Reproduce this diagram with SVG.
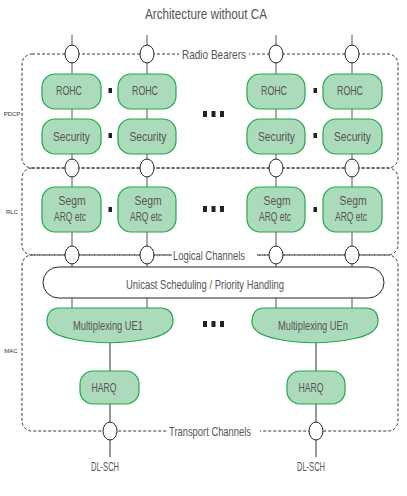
<svg xmlns="http://www.w3.org/2000/svg" width="407" height="496" viewBox="0 0 407 496">
<style>
text{font-family:"Liberation Sans",Arial,sans-serif;fill:#555;text-anchor:middle;dominant-baseline:central}
.g{fill:#acdbbb;stroke:#1fa84a;stroke-width:1.2}
.bnd{fill:none;stroke:#222;stroke-width:0.9;stroke-dasharray:3,2}
.v{stroke:#555;stroke-width:1}
.v2{stroke:#999;stroke-width:2}
.port{fill:#fff;stroke:#222;stroke-width:1}
.lbl{font-size:6px;fill:#333}
.t{font-size:13.5px}
.dot{fill:#222}
</style>
<rect width="407" height="496" fill="#fff"/>
<text x="206" y="14" style="font-size:14px" textLength="122" lengthAdjust="spacingAndGlyphs">Architecture without CA</text>

<g id="layers">
<rect class="bnd" x="22" y="54" width="376" height="114" rx="10"/>
<rect class="bnd" x="22" y="168" width="376" height="87" rx="10"/>
<rect class="bnd" x="22" y="255" width="376" height="176" rx="10"/>
<rect x="179" y="47" width="70" height="14" fill="#fff"/>
<rect x="172" y="248" width="85" height="14" fill="#fff"/>
<rect x="167" y="424" width="93" height="14" fill="#fff"/>
<text x="214" y="54" style="font-size:13px" textLength="64" lengthAdjust="spacingAndGlyphs">Radio Bearers</text>
<text x="209" y="255" style="font-size:13px" textLength="72" lengthAdjust="spacingAndGlyphs">Logical Channels</text>
<text x="210" y="431" style="font-size:13px" textLength="82" lengthAdjust="spacingAndGlyphs">Transport Channels</text>
<text class="lbl" x="12" y="114">PDCP</text>
<text class="lbl" x="12" y="212">RLC</text>
<text class="lbl" x="11" y="351">MAC</text>
</g>

<g id="connectors">
<line class="v" x1="72" y1="35" x2="72" y2="308"/>
<line class="v" x1="147" y1="35" x2="147" y2="308"/>
<line class="v" x1="276" y1="35" x2="276" y2="308"/>
<line class="v" x1="352" y1="35" x2="352" y2="308"/>
<line class="v2" x1="110" y1="340" x2="110" y2="457"/>
<line class="v2" x1="316" y1="340" x2="316" y2="457"/>
</g>

<g id="ports">
<ellipse class="port" cx="72" cy="54" rx="7" ry="9"/>
<ellipse class="port" cx="147" cy="54" rx="7" ry="9"/>
<ellipse class="port" cx="276" cy="54" rx="7" ry="9"/>
<ellipse class="port" cx="352" cy="54" rx="7" ry="9"/>
<ellipse class="port" cx="72" cy="168" rx="7" ry="9"/>
<ellipse class="port" cx="147" cy="168" rx="7" ry="9"/>
<ellipse class="port" cx="276" cy="168" rx="7" ry="9"/>
<ellipse class="port" cx="352" cy="168" rx="7" ry="9"/>
<ellipse class="port" cx="72" cy="255" rx="7" ry="9"/>
<ellipse class="port" cx="147" cy="255" rx="7" ry="9"/>
<ellipse class="port" cx="276" cy="255" rx="7" ry="9"/>
<ellipse class="port" cx="352" cy="255" rx="7" ry="9"/>
<ellipse class="port" cx="110" cy="431" rx="7" ry="9"/>
<ellipse class="port" cx="316" cy="431" rx="7" ry="9"/>
</g>

<g id="rohc1"><rect class="g" x="42" y="74" width="59" height="35" rx="13"/><text class="t" x="69" y="90" textLength="26" lengthAdjust="spacingAndGlyphs">ROHC</text></g>
<g id="rohc2"><rect class="g" x="118" y="74" width="58" height="35" rx="13"/><text class="t" x="145" y="90" textLength="26" lengthAdjust="spacingAndGlyphs">ROHC</text></g>
<g id="rohc3"><rect class="g" x="247" y="74" width="58" height="35" rx="13"/><text class="t" x="274" y="90" textLength="26" lengthAdjust="spacingAndGlyphs">ROHC</text></g>
<g id="rohc4"><rect class="g" x="323" y="74" width="59" height="35" rx="13"/><text class="t" x="350" y="90" textLength="26" lengthAdjust="spacingAndGlyphs">ROHC</text></g>

<g id="sec1"><rect class="g" x="42" y="119" width="59" height="35" rx="13"/><text class="t" x="71.5" y="136" textLength="37" lengthAdjust="spacingAndGlyphs">Security</text></g>
<g id="sec2"><rect class="g" x="118" y="119" width="58" height="35" rx="13"/><text class="t" x="148" y="136" textLength="37" lengthAdjust="spacingAndGlyphs">Security</text></g>
<g id="sec3"><rect class="g" x="247" y="119" width="58" height="35" rx="13"/><text class="t" x="276.5" y="136" textLength="37" lengthAdjust="spacingAndGlyphs">Security</text></g>
<g id="sec4"><rect class="g" x="323" y="119" width="59" height="35" rx="13"/><text class="t" x="352.5" y="136" textLength="37" lengthAdjust="spacingAndGlyphs">Security</text></g>

<g id="seg1"><rect class="g" x="42" y="187" width="59" height="45" rx="13"/><text class="t" x="72" y="200" textLength="27" lengthAdjust="spacingAndGlyphs">Segm</text><text class="t" x="70" y="216" textLength="32" lengthAdjust="spacingAndGlyphs">ARQ etc</text></g>
<g id="seg2"><rect class="g" x="118" y="187" width="58" height="45" rx="13"/><text class="t" x="148" y="200" textLength="27" lengthAdjust="spacingAndGlyphs">Segm</text><text class="t" x="146" y="216" textLength="32" lengthAdjust="spacingAndGlyphs">ARQ etc</text></g>
<g id="seg3"><rect class="g" x="247" y="187" width="58" height="45" rx="13"/><text class="t" x="277" y="200" textLength="27" lengthAdjust="spacingAndGlyphs">Segm</text><text class="t" x="275" y="216" textLength="32" lengthAdjust="spacingAndGlyphs">ARQ etc</text></g>
<g id="seg4"><rect class="g" x="323" y="187" width="59" height="45" rx="13"/><text class="t" x="353" y="200" textLength="27" lengthAdjust="spacingAndGlyphs">Segm</text><text class="t" x="351" y="216" textLength="32" lengthAdjust="spacingAndGlyphs">ARQ etc</text></g>

<g id="dots">
<rect class="dot" x="108.5" y="88" width="3.5" height="5"/>
<rect class="dot" x="313.5" y="88" width="3.5" height="5"/>
<rect class="dot" x="108.5" y="133" width="3.5" height="5"/>
<rect class="dot" x="313.5" y="133" width="3.5" height="5"/>
<rect class="dot" x="108.5" y="207" width="3.5" height="5"/>
<rect class="dot" x="313.5" y="207" width="3.5" height="5"/>
<rect class="dot" x="203" y="111" width="4" height="6"/>
<rect class="dot" x="211.5" y="111" width="4" height="6"/>
<rect class="dot" x="220" y="111" width="4" height="6"/>
<rect class="dot" x="203" y="206" width="4" height="6"/>
<rect class="dot" x="211.5" y="206" width="4" height="6"/>
<rect class="dot" x="220" y="206" width="4" height="6"/>
<rect class="dot" x="203" y="321" width="4" height="6"/>
<rect class="dot" x="211.5" y="321" width="4" height="6"/>
<rect class="dot" x="220" y="321" width="4" height="6"/>
</g>

<g id="sched"><rect x="43" y="267" width="341" height="31" rx="15.5" fill="#fff" stroke="#222" stroke-width="1"/><text class="t" x="205" y="284" textLength="158" lengthAdjust="spacingAndGlyphs">Unicast Scheduling / Priority Handling</text></g>

<g id="mux1"><path class="g" d="M58 308 H162 Q173 309 173 321 Q173 333 152 338 Q110 347 72 339 Q47 334 47 322 Q47 309 58 308 Z"/><text class="t" x="108" y="325" textLength="70" lengthAdjust="spacingAndGlyphs">Multiplexing UE1</text></g>
<g id="mux2"><path class="g" d="M263 308 H367 Q378 309 378 321 Q378 333 357 338 Q315 347 277 339 Q252 334 252 322 Q252 309 263 308 Z"/><text class="t" x="313" y="325" textLength="70" lengthAdjust="spacingAndGlyphs">Multiplexing UEn</text></g>

<g id="harq1"><rect class="g" x="80" y="371" width="59" height="33" rx="13"/><text class="t" x="104" y="387" textLength="25" lengthAdjust="spacingAndGlyphs">HARQ</text></g>
<g id="harq2"><rect class="g" x="287" y="371" width="58" height="33" rx="13"/><text class="t" x="311" y="387" textLength="25" lengthAdjust="spacingAndGlyphs">HARQ</text></g>

<text class="t" x="105" y="466" textLength="28" lengthAdjust="spacingAndGlyphs">DL-SCH</text>
<text class="t" x="311" y="466" textLength="28" lengthAdjust="spacingAndGlyphs">DL-SCH</text>
</svg>
